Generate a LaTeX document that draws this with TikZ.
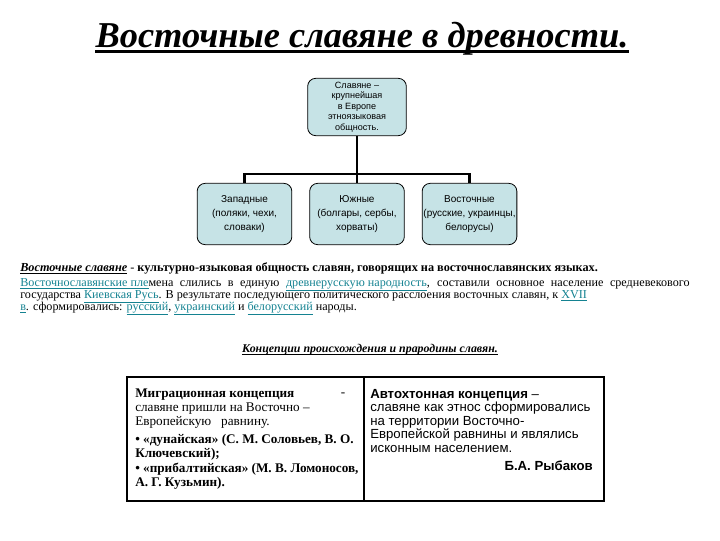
\documentclass[tikz,border=0pt]{standalone}
\usepackage{fontspec}
\setmainfont{Liberation Serif}
\newfontfamily\arialfont{Liberation Sans}
\definecolor{boxfill}{RGB}{198,227,230}
\definecolor{linkc}{RGB}{20,130,145}
\newcommand{\lnk}[1]{\textcolor{linkc}{\underline{#1}}}
\tikzset{
  orgbox/.style={draw, rounded corners=6pt, fill=boxfill, line width=0.6pt, align=center, inner sep=1pt},
  conn/.style={line width=2.2pt},
  txtline/.style={anchor=base west, inner sep=0pt},
}
\begin{document}
\begin{tikzpicture}[x=0.75pt,y=0.75pt,yscale=-1,xscale=1]
\useasboundingbox (0,0) rectangle (720,540);

% Title
\draw (362,47) node [anchor=base, inner sep=0pt, font=\fontsize{27.3}{30}\selectfont\bfseries\itshape] (title) {Восточные славяне в древности.};
\draw [line width=2pt] ([yshift=3.5pt]title.base west) -- ([yshift=3.5pt]title.base east);

%Shape: Rounded Rectangle
\draw (357,107) node [orgbox, minimum width=74pt, minimum height=43pt, font=\arialfont\fontsize{6.8}{7.9}\selectfont] (slavs) {Славяне –\\крупнейшая\\в Европе\\этноязыковая\\общность.};
\draw (244.5,214) node [orgbox, minimum width=71pt, minimum height=46pt, font=\arialfont\fontsize{7.5}{10.5}\selectfont] (west) {Западные\\(поляки, чехи,\\словаки)};
\draw (357,214) node [orgbox, minimum width=71pt, minimum height=46pt, font=\arialfont\fontsize{7.5}{10.5}\selectfont] (south) {Южные\\(болгары, сербы,\\хорваты)};
\draw (469.5,214) node [orgbox, minimum width=71pt, minimum height=46pt, font=\arialfont\fontsize{7.5}{10.5}\selectfont] (east) {Восточные\\(русские, украинцы,\\белорусы)};

%Straight Lines
\coordinate (bar) at (357,174);
\draw [conn] (slavs.south) -- (south.north);
\draw [conn] (west.north) |- (bar) -| (east.north);

% Text Node
\draw (20,271) node [txtline, font=\fontsize{9.2}{10}\selectfont] (line1) {\textbf{\textit{\underline{Восточные славяне}}} - \textbf{культурно-языковая общность славян, говорящих на восточнославянских языках.}};
% Text Node
\draw (20,286) node [txtline, font=\fontsize{9.1}{10}\selectfont] (line2) {\hbox to 502pt{\lnk{Восточнославянские пле}мена слились в единую \lnk{древнерусскую народность}, составили основное население средневекового}};
% Text Node
\draw (20,298) node [txtline, font=\fontsize{9.1}{10}\selectfont] (line3) {государства \lnk{Киевская Русь}. В результате последующего политического расслоения восточных славян, к \lnk{XVII}};
% Text Node
\draw (20,310) node [txtline, font=\fontsize{9.1}{10}\selectfont] (line4) {\lnk{в}. сформировались: \lnk{русский}, \lnk{украинский} и \lnk{белорусский} народы.};

% Text Node
\draw (370,352) node [anchor=base, inner sep=0pt, font=\fontsize{8.9}{10}\selectfont\bfseries\itshape] (concepts) {Концепции происхождения и прародины славян.};
\draw [line width=0.6pt] ([yshift=2pt]concepts.base west) -- ([yshift=2pt]concepts.base east);

%Shape: Rectangle
\draw [line width=0.8pt] (127,377) rectangle (604,501);
\draw [line width=0.8pt] (364,377) -- (364,501);

% Text Node
\draw (135,389) node [anchor=north west, inner sep=0pt, align=left, font=\fontsize{9.9}{10.5}\selectfont] (migr) {\textbf{Миграционная концепция}\\
славяне пришли на Восточно –\\
Европейскую \ \ равнину.\\[3pt]
\textbf{\textbullet\ «дунайская» (С. М. Соловьев, В. О.}\\
\textbf{Ключевский);}\\[0.8pt]
\textbf{\textbullet\ «прибалтийская» (М. В. Ломоносов,}\\
\textbf{А. Г. Кузьмин).}};
\draw (343,396) node [anchor=base, inner sep=0pt, font=\fontsize{9.9}{10.5}\selectfont] (dash) {-};
% Text Node
\draw (370,389) node [anchor=north west, inner sep=0pt, align=left, font=\arialfont\fontsize{9.9}{10.1}\selectfont] (autoch) {\textbf{Автохтонная концепция} –\\
славяне как этнос сформировались\\
на территории Восточно-\\
Европейской равнины и являлись\\
исконным населением.};
% Text Node
\draw (593,470) node [anchor=base east, inner sep=0pt, font=\arialfont\fontsize{9.9}{10.1}\selectfont\bfseries] (rybakov) {Б.А. Рыбаков};

\end{tikzpicture}
\end{document}
